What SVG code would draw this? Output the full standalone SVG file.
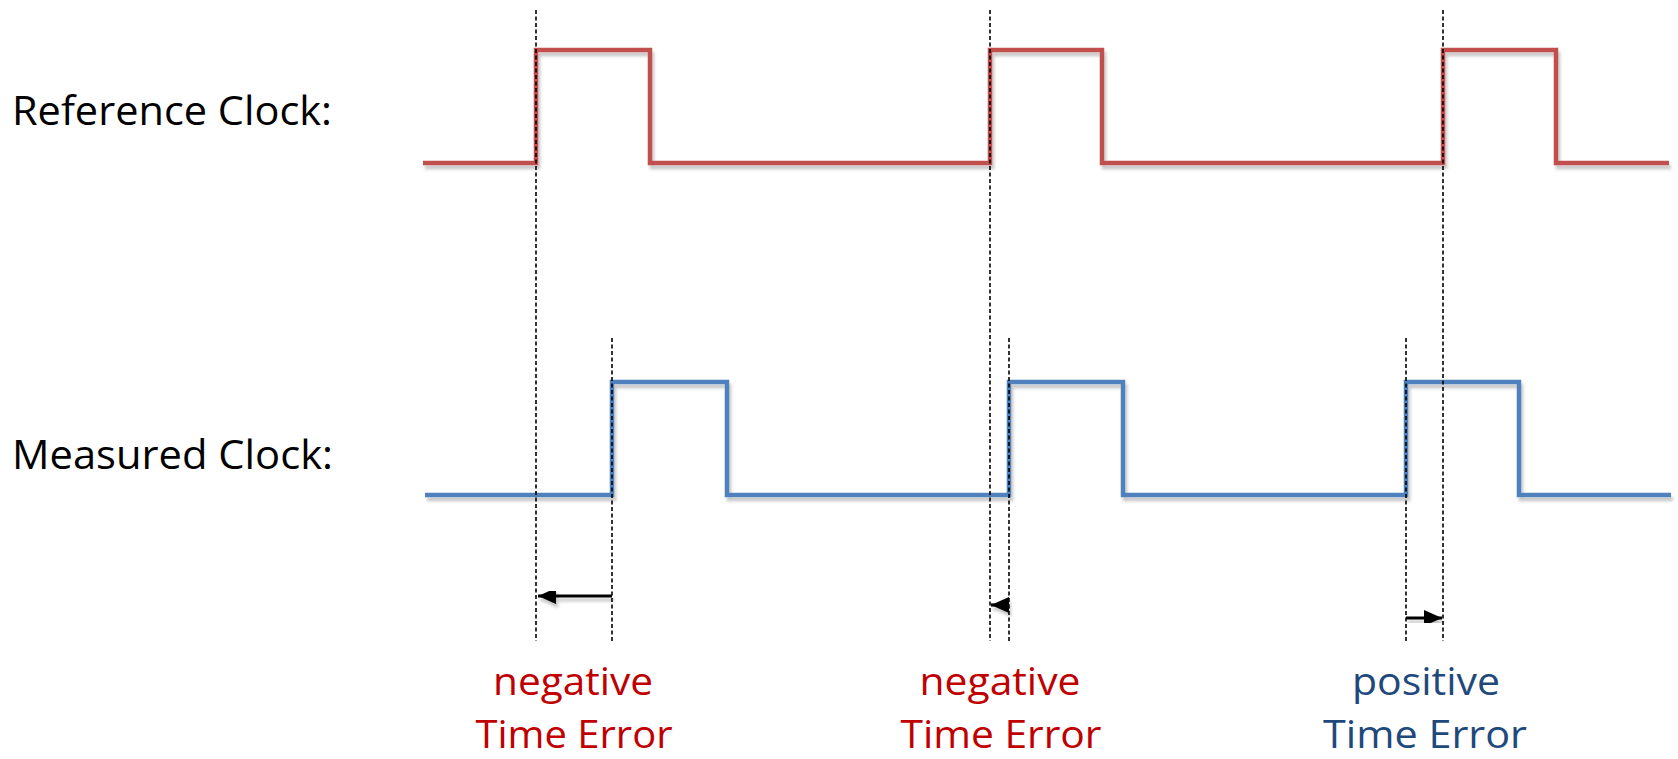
<svg xmlns="http://www.w3.org/2000/svg" width="1678" height="759" viewBox="0 0 1678 759">
<style>
.lbl{font-family:"Open Sans","Liberation Sans",sans-serif;font-size:41px;fill:#000}
.err{font-family:"Open Sans","Liberation Sans",sans-serif;font-size:38px;text-anchor:middle}
.neg{fill:#C00000}
.pos{fill:#1F497D}
.wave{fill:none;stroke-width:4.5;stroke-linejoin:miter}
.dash{stroke:#000;stroke-width:1.6;stroke-dasharray:4 2.5;fill:none}
.arr{stroke:#000;stroke-width:3.2;fill:none;marker-end:url(#ah)}
</style>
<defs>
<filter id="sh" x="-5%" y="-20%" width="110%" height="140%">
<feDropShadow dx="2" dy="4" stdDeviation="1.5" flood-color="#000" flood-opacity="0.22"/>
</filter>
<marker id="ah" markerUnits="userSpaceOnUse" markerWidth="19" markerHeight="17" refX="18" refY="8" orient="auto">
<path d="M0,0 L18,8 L0,16 Z" fill="#000"/>
</marker>
</defs>
<rect width="1678" height="759" fill="#fff"/>
<g id="label-reference"><text class="lbl" x="12" y="125" textLength="320" lengthAdjust="spacingAndGlyphs">Reference Clock:</text></g>
<g id="label-measured"><text class="lbl" x="12" y="469" textLength="321" lengthAdjust="spacingAndGlyphs">Measured Clock:</text></g>
<g id="reference-clock" filter="url(#sh)">
<path class="wave" stroke="#C0504D" d="M423,163 H536 V50 H650 V163 H990 V50 H1102 V163 H1443 V50 H1556 V163 H1669"/>
</g>
<g id="measured-clock" filter="url(#sh)">
<path class="wave" stroke="#4F81BD" d="M425,495 H612 V382 H727 V495 H1009 V382 H1123 V495 H1406 V382 H1519 V495 H1671"/>
</g>
<g id="guides">
<line class="dash" x1="536" y1="10" x2="536" y2="641"/>
<line class="dash" x1="990" y1="10" x2="990" y2="641"/>
<line class="dash" x1="1443" y1="10" x2="1443" y2="641"/>
<line class="dash" x1="612" y1="338" x2="612" y2="641"/>
<line class="dash" x1="1009" y1="338" x2="1009" y2="641"/>
<line class="dash" x1="1406" y1="338" x2="1406" y2="641"/>
</g>
<g id="connectors" filter="url(#sh)">
<line class="arr" x1="612" y1="596" x2="538" y2="596"/>
<line class="arr" x1="1009" y1="605" x2="991" y2="605"/>
<line class="arr" x1="1406" y1="618" x2="1442" y2="618"/>
</g>
<g id="error-1">
<text class="err neg" x="573" y="695" textLength="160" lengthAdjust="spacingAndGlyphs">negative</text>
<text class="err neg" x="574" y="748" textLength="197" lengthAdjust="spacingAndGlyphs">Time Error</text>
</g>
<g id="error-2">
<text class="err neg" x="1000" y="695" textLength="161" lengthAdjust="spacingAndGlyphs">negative</text>
<text class="err neg" x="1001" y="748" textLength="201" lengthAdjust="spacingAndGlyphs">Time Error</text>
</g>
<g id="error-3">
<text class="err pos" x="1426" y="695" textLength="148" lengthAdjust="spacingAndGlyphs">positive</text>
<text class="err pos" x="1425" y="748" textLength="204" lengthAdjust="spacingAndGlyphs">Time Error</text>
</g>
</svg>
